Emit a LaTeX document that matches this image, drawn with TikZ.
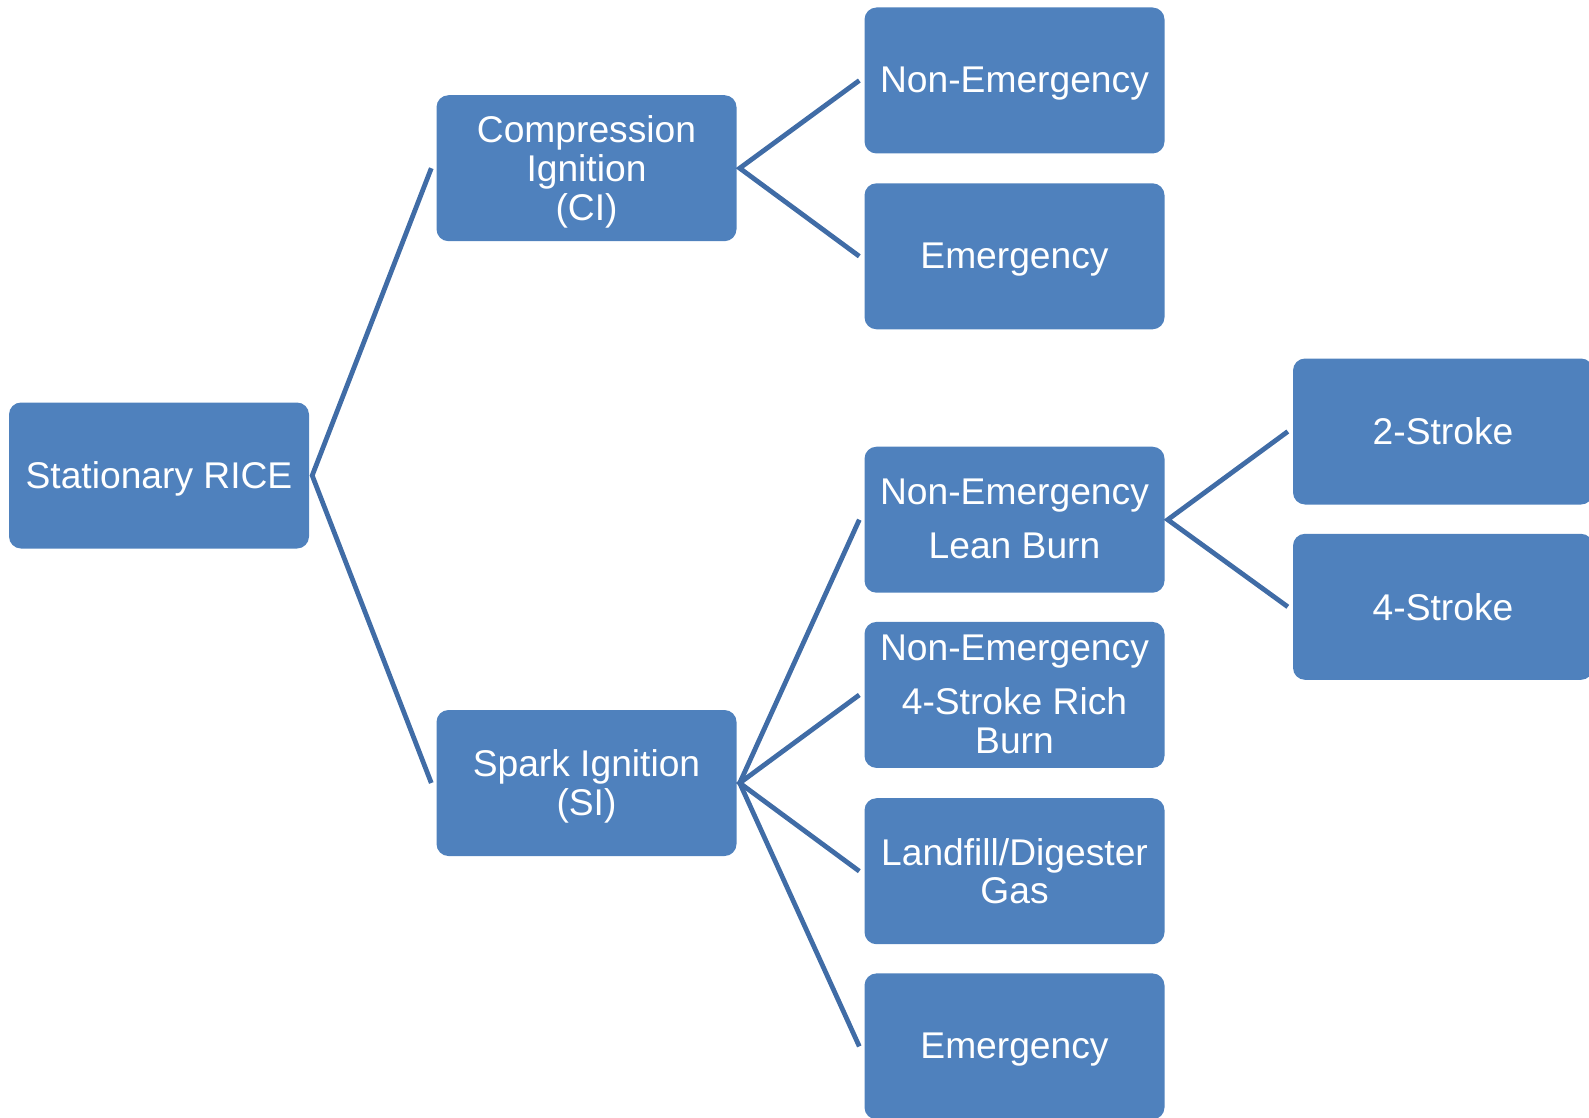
\documentclass[tikz,border=0pt]{standalone}
\usepackage{fontspec}
\setmainfont{Liberation Sans}
\definecolor{boxblue}{RGB}{79,129,189}
\definecolor{lineblue}{RGB}{64,108,166}
\tikzset{
  box/.style={rectangle, rounded corners=12pt, fill=boxblue, minimum width=300pt, minimum height=146pt, inner sep=0pt},
  txt/.style={text=white, align=center, inner sep=0pt, anchor=north, font=\fontsize{37.2pt}{38.8pt}\selectfont},
  conn/.style={draw=lineblue, line width=4.8pt}
}
\begin{document}
\begin{tikzpicture}[x=1pt,y=-1pt]
\useasboundingbox (0,0) rectangle (1589,1118);
% boxes
\node[box] (rice) at (159,475.5) {};
\node[box] (ci) at (586.5,168.2) {};
\node[box] (si) at (586.5,783) {};
\node[box] (ne1) at (1014.5,80.5) {};
\node[box] (em1) at (1014.5,256.3) {};
\node[box] (lean) at (1014.5,519.7) {};
\node[box] (rich) at (1014.5,694.9) {};
\node[box] (land) at (1014.5,871.2) {};
\node[box] (em2) at (1014.5,1046.4) {};
\node[box] (s2) at (1443,431.5) {};
\node[box] (s4) at (1443,606.8) {};
% texts
\node[txt] (rice-t) at ([yshift=13.8pt]rice.center) {Stationary RICE};
\node[txt] (ci-t) at ([yshift=52.6pt]ci.center) {Compression\\Ignition\\(CI)};
\node[txt] (si-t) at ([yshift=33.2pt]si.center) {Spark Ignition\\(SI)};
\node[txt] (ne1-t) at ([yshift=13.8pt]ne1.center) {Non-Emergency};
\node[txt] (em1-t) at ([yshift=13.8pt]em1.center) {Emergency};
\node[txt] (lean-t) at ([yshift=40.7pt]lean.center) {Non-Emergency\\[14.9pt]Lean Burn};
\node[txt] (rich-t) at ([yshift=60.1pt]rich.center) {Non-Emergency\\[14.9pt]4-Stroke Rich\\Burn};
\node[txt] (land-t) at ([yshift=33.2pt]land.center) {Landfill/Digester\\Gas};
\node[txt] (em2-t) at ([yshift=13.8pt]em2.center) {Emergency};
\node[txt] (s2-t) at ([yshift=13.8pt]s2.center) {2-Stroke};
\node[txt] (s4-t) at ([yshift=13.8pt]s4.center) {4-Stroke};
% connectors
\draw[conn] ([xshift=-5pt]ci.west) -- ([xshift=3pt]rice.east) -- ([xshift=-5pt]si.west);
\draw[conn] ([xshift=-5pt]ne1.west) -- ([xshift=3pt]ci.east) -- ([xshift=-5pt]em1.west);
\draw[conn] ([xshift=-5pt]lean.west) -- ([xshift=3pt]si.east) -- ([xshift=-5pt]em2.west);
\draw[conn] ([xshift=-5pt]rich.west) -- ([xshift=3pt]si.east) -- ([xshift=-5pt]land.west);
\draw[conn] ([xshift=-5pt]s2.west) -- ([xshift=3pt]lean.east) -- ([xshift=-5pt]s4.west);
\end{tikzpicture}
\end{document}
